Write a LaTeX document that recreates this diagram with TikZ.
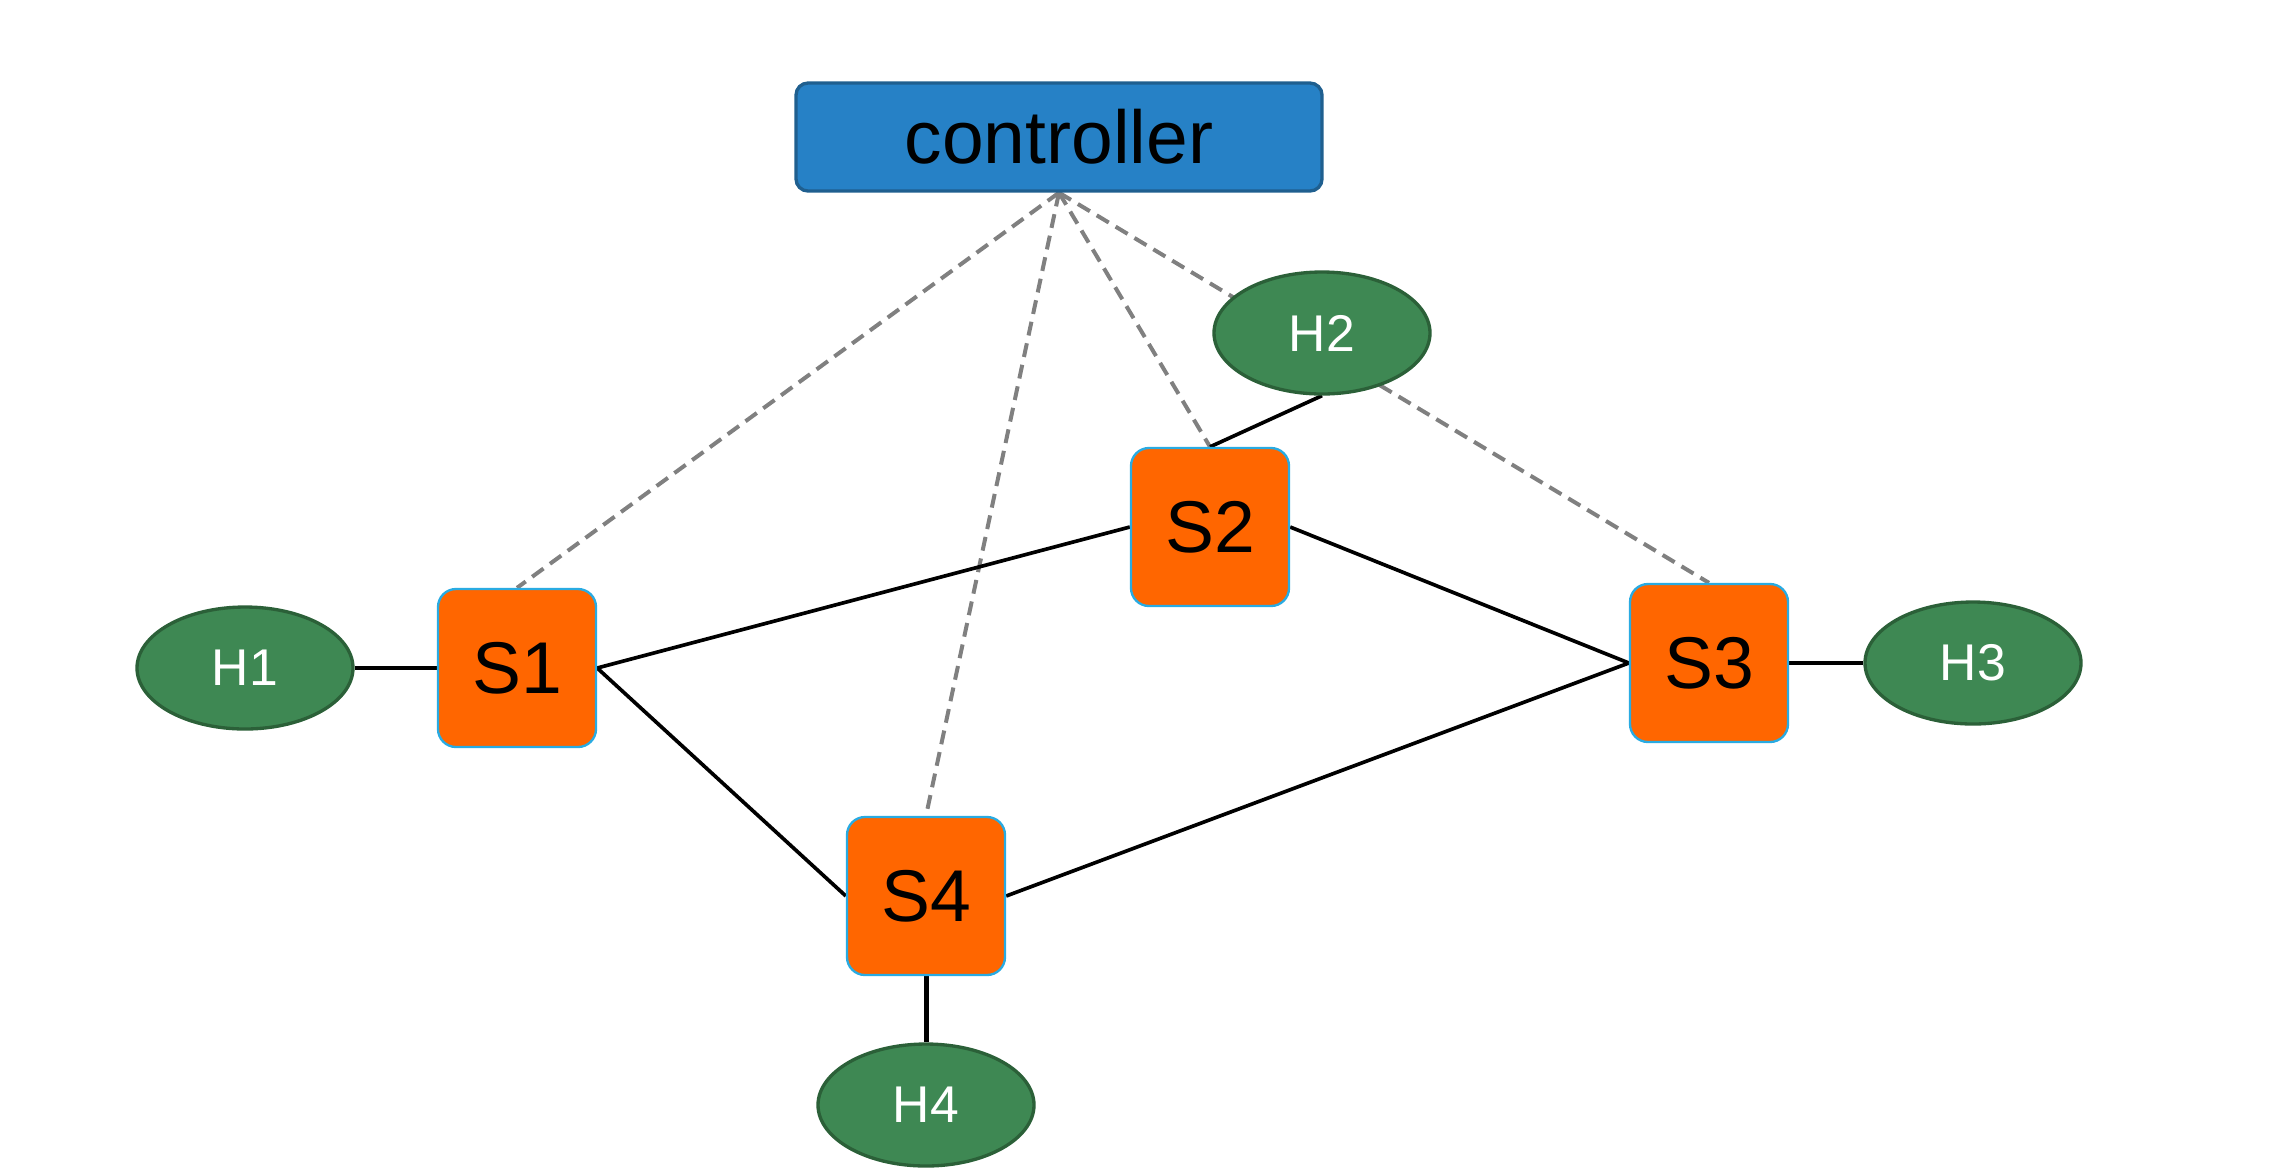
\documentclass[tikz,border=0pt]{standalone}
\usepackage{fontspec}
\setmainfont{Liberation Sans}
\usetikzlibrary{shapes.geometric,backgrounds}
\definecolor{ctrlfill}{HTML}{2681C6}
\definecolor{ctrldraw}{HTML}{1F5F8F}
\definecolor{swfill}{HTML}{FF6600}
\definecolor{swdraw}{HTML}{29ABE2}
\definecolor{hostfill}{HTML}{3E8853}
\definecolor{hostdraw}{HTML}{2B6038}
\definecolor{ctrlline}{HTML}{808080}
\tikzset{
  ctrlbox/.style={draw=ctrldraw, fill=ctrlfill, line width=1pt, rounded corners=3.6pt,
    minimum width=157.8pt, minimum height=32.4pt, inner sep=0pt, font=\fontsize{22.5}{27}\selectfont},
  switchbox/.style={draw=swdraw, fill=swfill, line width=0.7pt, rounded corners=5.4pt,
    minimum width=47.4pt, minimum height=47.4pt, inner sep=0pt, font=\fontsize{22}{26}\selectfont},
  hostnode/.style={ellipse, draw=hostdraw, fill=hostfill, line width=1pt,
    minimum width=64.8pt, minimum height=36.6pt, inner sep=0pt, text=white,
    font=\fontsize{15.5}{18}\selectfont},
  datalink/.style={black, line width=1.1pt},
  hostlink/.style={black, line width=1.1pt},
  ctrllink/.style={ctrlline, line width=1.2pt, dash pattern=on 4.2pt off 2.4pt},
}
\begin{document}
\begin{tikzpicture}[x=0.3pt, y=-0.3pt]
\useasboundingbox (0,0) rectangle (2291,1175);
% controller
\node[ctrlbox] (ctrl) at (1059,137) {controller};
% switches
\node[switchbox] (s1) at (517,668) {S1};
\node[switchbox] (s2) at (1210,527) {S2};
\node[switchbox] (s3) at (1709,663) {S3};
\node[switchbox] (s4) at (926,896) {S4};
% hosts
\node[hostnode] (h1) at (245,668) {H1};
\node[hostnode] (h2) at (1322,333) {H2};
\node[hostnode] (h3) at (1973,663) {H3};
\node[hostnode] (h4) at (926,1105) {H4};
% links, behind the nodes
\begin{scope}[on background layer]
  \draw[ctrllink] (ctrl.south) -- (s1.north);
  \draw[ctrllink] (ctrl.south) -- (s4.north);
  \draw[ctrllink] (ctrl.south) -- (s2.north);
  \draw[ctrllink] (ctrl.south) -- (s3.north);
  \draw[hostlink] (h1.east) -- (s1.west);
  \draw[datalink] (s1.east) -- (s2.west);
  \draw[datalink] (s1.east) -- (s4.west);
  \draw[datalink] (s2.east) -- (s3.west);
  \draw[datalink] (s4.east) -- (s3.west);
  \draw[hostlink] (s3.east) -- (h3.west);
  \draw[hostlink, line width=1.5pt] (s4.south) -- (h4.north);
  \draw[hostlink] (h2.south) -- (s2.north);
\end{scope}
\end{tikzpicture}
\end{document}
